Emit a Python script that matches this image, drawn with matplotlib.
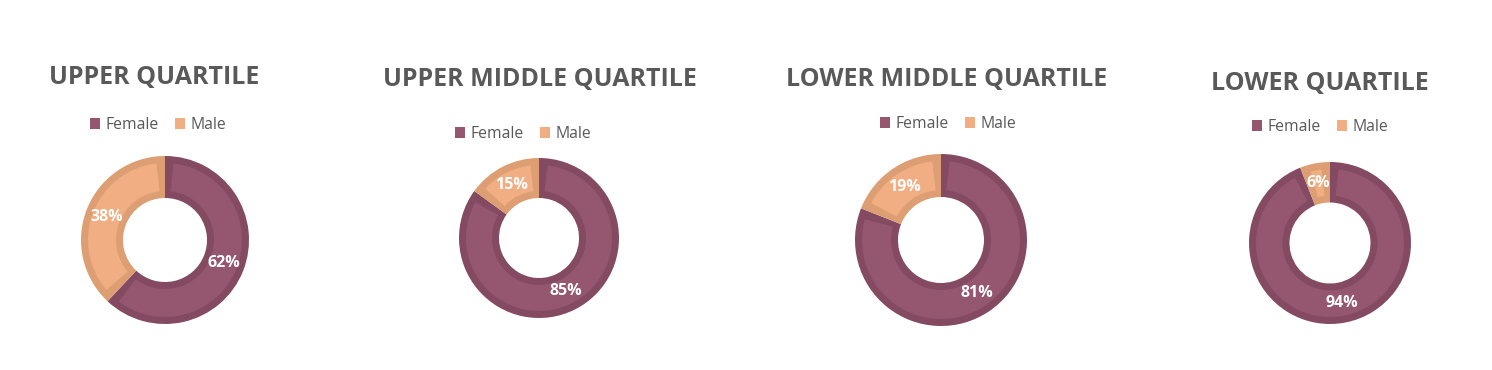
import numpy as np
import matplotlib.pyplot as plt
from matplotlib.patches import Patch, Wedge

# --- data ---------------------------------------------------------------
titles = ["UPPER QUARTILE", "UPPER MIDDLE QUARTILE",
          "LOWER MIDDLE QUARTILE", "LOWER QUARTILE"]
series = ["Female", "Male"]
female = [62, 85, 81, 94]
male = [38, 15, 19, 6]

# --- style / layout (pixels) -------------------------------------------
W, H = 1492, 370
fill = ["#95566f", "#f1ae82"]
edge = ["#844a62", "#dc9e72"]
grey = "#595959"
border = 7  # px, inner bevel

donuts = [(165, 240, 84), (539, 238, 80), (941, 240, 86), (1330, 243, 81)]
title_xy = [(154, 78), (540, 80), (947, 80), (1320, 84)]
legend_xy = [(158, 125), (523, 134), (948, 124), (1320, 127)]

plt.rcParams['font.family'] = ['Open Sans', 'DejaVu Sans']

fig = plt.figure(figsize=(W / 100, H / 100), dpi=100)

for i in range(len(titles)):
    cx, cy, r = donuts[i]
    ax = fig.add_axes([(cx - r) / W, 1 - (cy + r) / H, 2 * r / W, 2 * r / H])
    wedges, texts, autotexts = ax.pie(
        [female[i], male[i]], colors=edge, startangle=90, counterclock=False,
        radius=1, autopct='%.0f%%', pctdistance=0.75,
        wedgeprops=dict(width=0.5, linewidth=0),
        textprops=dict(color="white", fontweight="bold", fontsize=11.5))
    # lighter inset on each slice -> bevelled look
    b = border / r
    d = np.degrees(b / 0.75)
    for w, fc in zip(wedges, fill):
        inner = Wedge((0, 0), 1 - b, w.theta1 + d, w.theta2 - d,
                      width=0.5 - 2 * b, facecolor=fc, linewidth=0, zorder=1.5)
        ax.add_patch(inner)
    for t in autotexts:
        t.set_zorder(3)
    ax.set_xlim(-1, 1)
    ax.set_ylim(-1, 1)
    ax.axis('off')

    tx, ty = title_xy[i]
    fig.text(tx / W, 1 - ty / H, titles[i], ha='center', va='center',
             fontsize=18, fontweight='bold', color=grey)

    lx, ly = legend_xy[i]
    handles = [Patch(facecolor=fill[0]), Patch(facecolor=fill[1])]
    fig.legend(handles, series, loc='center', bbox_to_anchor=(lx / W, 1 - ly / H),
               ncol=2, frameon=False, handlelength=0.65, handleheight=0.65,
               handletextpad=0.35, columnspacing=1.0, fontsize=11.3,
               labelcolor=grey)

fig.savefig("out.png", dpi=100, facecolor="white")
